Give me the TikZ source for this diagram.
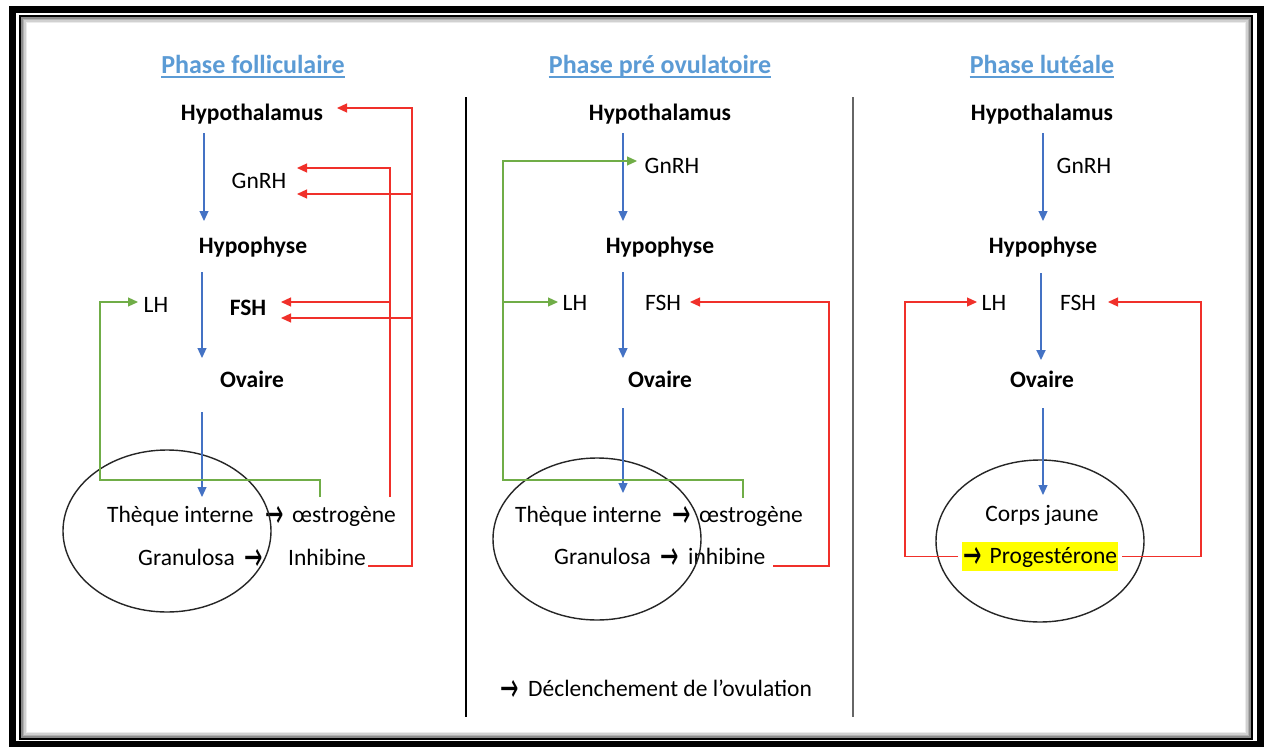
\documentclass[tikz,border=0pt]{standalone}
\usepackage{fontspec}
\setmainfont{Carlito}
\newfontfamily\arrfont{DejaVu Sans}
\newcommand\myarrow{\raisebox{-5pt}{\scalebox{0.55}[1]{\arrfont\fontsize{40}{44}\selectfont →}}}
\usetikzlibrary{arrows.meta,shapes.geometric,calc}
\definecolor{tblue}{HTML}{5B9BD5}
\definecolor{abl}{HTML}{4472C4}
\definecolor{agr}{HTML}{70AD47}
\definecolor{ard}{HTML}{F0302A}
\definecolor{hl}{HTML}{FFFF00}
\tikzset{
 body/.style={font=\fontsize{23.5}{28}\selectfont, inner sep=0pt, anchor=base, text=black},
 bold/.style={body, font=\fontsize{23.5}{28}\selectfont\bfseries},
 ttl/.style={inner sep=0pt, anchor=base, text=tblue, font=\fontsize{26}{30}\selectfont\bfseries},
 tip/.style={-{Triangle[length=10pt,width=9pt]}},
 ba/.style={draw=abl, line width=1.2pt, tip},
 ga/.style={draw=agr, line width=1.2pt, tip},
 ra/.style={draw=ard, line width=1.2pt, tip},
 oval/.style={draw=black!85, line width=1.4pt, ellipse, minimum width=208pt, minimum height=162pt, inner sep=0pt},
 arr/.style={inner sep=0pt, anchor=base},
 uline/.style={draw=tblue, line width=1.5pt},
}
\begin{document}
\begin{tikzpicture}[x=1pt,y=-1pt]
\useasboundingbox (0,0) rectangle (1267,747);
\fill[white] (0,0) rectangle (1267,747);
% frame
\draw[line width=7pt] (12.5,9.5) rectangle (1260,744);
\draw[line width=1.5pt] (20,16) rectangle (1252,739);
\foreach \d/\g in {2/45,3.5/30,5/18,6.5/8}
  \draw[black!\g, line width=1.6pt] (20+\d,16+\d) rectangle (1252-\d,739-\d);
% dividers
\coordinate (d1a) at (466,97); \coordinate (d1b) at (466,717);
\coordinate (d2a) at (853,97); \coordinate (d2b) at (853,717);
\draw[line width=1.5pt] (d1a) -- (d1b);
\draw[black!60, line width=1.3pt] (d2a) -- (d2b);

% ================= Panel 1 =================
\node[ttl] (t1) at (253,73) {Phase folliculaire};
\draw[uline] ($(t1.base west)+(0,4)$) -- ($(t1.base east)+(0,4)$);
\node[bold] (hth1) at (252,120) {Hypothalamus};
\node[body] (gn1) at (259,188) {GnRH};
\node[bold] (hyp1) at (253,253) {Hypophyse};
\node[body] (lh1) at (156,312) {LH};
\node[bold] (fsh1) at (248,315) {FSH};
\node[bold] (ov1) at (252,387) {Ovaire};
\node[body, anchor=base west] (th1) at (107,522) {Thèque interne};
\node[arr] (ar1) at (275,522) {\myarrow};
\node[body, anchor=base west] (oe1) at (292,522) {œstrogène};
\node[body, anchor=base west] (gr1) at (138,565) {Granulosa};
\node[arr] (ar2) at (254,565) {\myarrow};
\node[body, anchor=base west] (in1) at (288,565) {Inhibine};
\node[oval] (el1) at (167,531) {};

\coordinate (b1a) at (204,133); \coordinate (b1b) at (204,221);
\coordinate (b1c) at (202,272); \coordinate (b1d) at (202,358);
\coordinate (b1e) at (202,412); \coordinate (b1f) at (202,497);
\draw[ba] (b1a) -- (b1b);
\draw[ba] (b1c) -- (b1d);
\draw[ba] (b1e) -- (b1f);
% green
\coordinate (g1s) at (320,497); \coordinate (g1t) at (138,302);
\draw[ga] (g1s) -- (320,480) -- (100,480) |- (g1t);
% red x=390
\coordinate (r1s) at (390,497);
\coordinate (r1t1) at (297,168); \coordinate (r1t2) at (281,302);
\draw[ra] (r1s) |- (r1t1);
\draw[ra] (390,302) -- (r1t2);
% red x=412
\coordinate (r2s) at (368,566);
\coordinate (r2t1) at (337,108); \coordinate (r2t2) at (297,194); \coordinate (r2t3) at (281,318);
\draw[ra] (r2s) -- (412,566) |- (r2t1);
\draw[ra] (412,194) -- (r2t2);
\draw[ra] (412,318) -- (r2t3);

% ================= Panel 2 =================
\node[ttl] (t2) at (660,73) {Phase pré ovulatoire};
\draw[uline] ($(t2.base west)+(0,4)$) -- ($(t2.base east)+(0,4)$);
\node[bold] (hth2) at (660,120) {Hypothalamus};
\node[body] (gn2) at (672,173) {GnRH};
\node[bold] (hyp2) at (660,253) {Hypophyse};
\node[body] (lh2) at (575,310) {LH};
\node[body] (fsh2) at (663,310) {FSH};
\node[bold] (ov2) at (660,387) {Ovaire};
\node[body, anchor=base west] (th2) at (515,522) {Thèque interne};
\node[arr] (ar3) at (682,522) {\myarrow};
\node[body, anchor=base west] (oe2) at (699,522) {œstrogène};
\node[body, anchor=base west] (gr2) at (554,564) {Granulosa};
\node[arr] (ar4) at (670,564) {\myarrow};
\node[body, anchor=base west] (in2) at (688,564) {inhibine};
\node[oval] (el2) at (597,539) {};
\node[arr] (ar5) at (510,696) {\myarrow};
\node[body, anchor=base west] (dec) at (528,696) {Déclenchement de l’ovulation};

\coordinate (b2a) at (623,133); \coordinate (b2b) at (623,221);
\coordinate (b2c) at (623,272); \coordinate (b2d) at (623,358);
\coordinate (b2e) at (623,408); \coordinate (b2f) at (623,493);
\draw[ba] (b2a) -- (b2b);
\draw[ba] (b2c) -- (b2d);
\draw[ba] (b2e) -- (b2f);
% green
\coordinate (g2s) at (743,498); \coordinate (g2t1) at (637,161); \coordinate (g2t2) at (558,302);
\draw[ga] (g2s) -- (743,480) -- (503,480) |- (g2t1);
\draw[ga] (503,302) -- (g2t2);
% red
\coordinate (r3s) at (773,566); \coordinate (r3t) at (690,302);
\draw[ra] (r3s) -- (829,566) |- (r3t);

% ================= Panel 3 =================
\node[ttl] (t3) at (1042,73) {Phase lutéale};
\draw[uline] ($(t3.base west)+(0,4)$) -- ($(t3.base east)+(0,4)$);
\node[bold] (hth3) at (1042,120) {Hypothalamus};
\node[body] (gn3) at (1084,173) {GnRH};
\node[bold] (hyp3) at (1043,253) {Hypophyse};
\node[body] (lh3) at (994,310) {LH};
\node[body] (fsh3) at (1078,310) {FSH};
\node[bold] (ov3) at (1042,387) {Ovaire};
\node[body] (cj) at (1042,521) {Corps jaune};
\node[oval] (el3) at (1040,541) {};
\node[body, anchor=base west, fill=hl, inner xsep=1pt, inner ysep=2pt, text height=19pt, text depth=6pt] (pg) at (962,563) {\myarrow\hspace{8pt}Progestérone};

\coordinate (b3a) at (1043,133); \coordinate (b3b) at (1043,221);
\coordinate (b3c) at (1041,273); \coordinate (b3d) at (1041,360);
\coordinate (b3e) at (1043,408); \coordinate (b3f) at (1043,495);
\draw[ba] (b3a) -- (b3b);
\draw[ba, line width=2pt] (b3c) -- (b3d);
\draw[ba] (b3e) -- (b3f);
% red
\coordinate (r4t) at (977,302); \coordinate (r5t) at (1108,302);
\draw[ra, shorten <=4pt] (pg.west) -- (905,556.5) |- (r4t);
\draw[ra, shorten <=4pt] (pg.east) -- (1201,556.5) |- (r5t);
\end{tikzpicture}
\end{document}
